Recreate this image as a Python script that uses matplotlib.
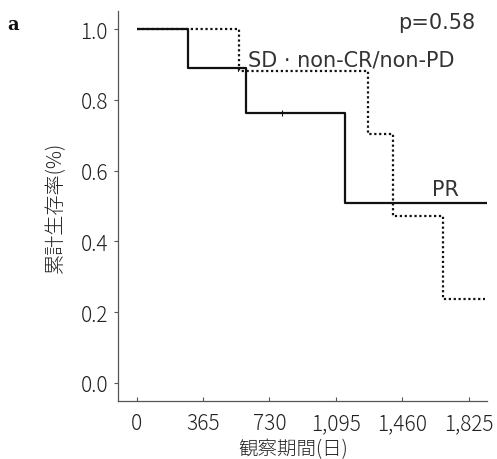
import matplotlib
matplotlib.use("Agg")
import matplotlib.pyplot as plt

plt.rcParams['font.family'] = ['Noto Sans CJK JP', 'DejaVu Sans']

# Kaplan-Meier step data (days, survival)
pr_times = [0, 284, 599, 1145, 1926]
pr_surv = [1.0, 0.889, 0.762, 0.508, 0.508]
pr_censor_t = [797]
pr_censor_s = [0.762]

sd_times = [0, 564, 1273, 1410, 1685, 1914]
sd_surv = [1.0, 0.882, 0.703, 0.473, 0.237, 0.237]

xticks = [0, 365, 730, 1095, 1460, 1825]
xticklabels = ["0", "365", "730", "1,095", "1,460", "1,825"]
yticks = [0.0, 0.2, 0.4, 0.6, 0.8, 1.0]
yticklabels = ["0.0", "0.2", "0.4", "0.6", "0.8", "1.0"]

fig = plt.figure(figsize=(4.97, 4.60), dpi=100)
ax = fig.add_axes([0.237, 0.126, 0.743, 0.848])

ax.step(pr_times, pr_surv, where='post', color='#111111', lw=1.6, solid_capstyle='butt')
ax.plot(pr_censor_t, pr_censor_s, linestyle='none', marker='|', color='#111111', ms=4, mew=0.8)
ax.step(sd_times, sd_surv, where='post', color='#111111', lw=1.6,
        linestyle=(0, (1, 1.2)))

ax.set_xlim(-103, 1926)
ax.set_ylim(-0.051, 1.051)
ax.set_xticks(xticks)
ax.set_xticklabels(xticklabels)
ax.set_yticks(yticks)
ax.set_yticklabels(yticklabels)

for s in ['top', 'right']:
    ax.spines[s].set_visible(False)
for s in ['left', 'bottom']:
    ax.spines[s].set_color('#555555')
    ax.spines[s].set_linewidth(0.9)

ax.tick_params(axis='both', labelsize=15, colors='#555555', labelcolor='#222222',
               length=3, width=0.8)
ax.tick_params(axis='x', direction='in', pad=8)
ax.tick_params(axis='y', direction='out', pad=4)
for lab in ax.get_xticklabels() + ax.get_yticklabels():
    lab.set_fontweight('light')

ax.set_xlabel("観察期間(日)", fontsize=14, color='#222222', fontweight='light')
ax.xaxis.set_label_coords(0.475, -0.095)
ax.set_ylabel("累計生存率(%)", fontsize=14.5, color='#222222', fontweight='light')
ax.yaxis.set_label_coords(-0.14, 0.5)

txt_font = ['DejaVu Sans']
ax.text(1862, 1.02, "p=0.58", fontsize=15, ha='right', va='center', color='#333333',
        family=txt_font)
ax.text(612, 0.915, "SD · non-CR/non-PD", fontsize=15, ha='left', va='center', color='#333333',
        family=txt_font)
ax.text(1695, 0.548, "PR", fontsize=15, ha='center', va='center', color='#333333',
        family=txt_font)

fig.text(0.027, 0.946, "a", fontsize=13, family='DejaVu Serif', fontweight='bold',
         ha='center', va='center', color='#111111')

fig.savefig("out.png", dpi=100)
